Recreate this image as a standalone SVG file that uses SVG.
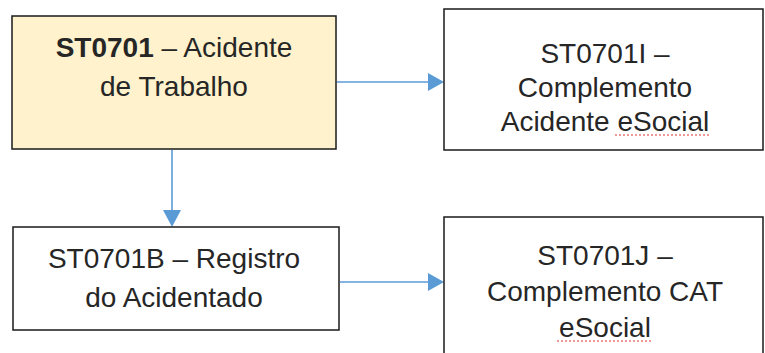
<svg xmlns="http://www.w3.org/2000/svg" width="765" height="353" viewBox="0 0 765 353">
<style>
.box{fill:#fff;stroke:#1a1a1a;stroke-width:1.5}
.hl{fill:#FFF2CC}
text{font-family:"Liberation Sans",Arial,sans-serif;font-size:28px;fill:#262626;text-anchor:middle}
.conn{stroke:#5B9BD5;stroke-width:1.6;fill:none}
.head{fill:#5B9BD5}
.sq{stroke:#d33;stroke-width:1.2;stroke-dasharray:2 2;fill:none}
</style>
<g id="connectors">
<line class="conn" x1="337" y1="82" x2="430" y2="82"/>
<path class="head" d="M428,73 L444,82 L428,91 z"/>
<line class="conn" x1="172" y1="150" x2="172" y2="212"/>
<path class="head" d="M163,210 L172,227 L181,210 z"/>
<line class="conn" x1="340" y1="282" x2="430" y2="282"/>
<path class="head" d="M428,273 L444,282 L428,291 z"/>
</g>
<g id="n1">
<rect class="box hl" x="12" y="16" width="324" height="133"/>
<text x="174" y="57"><tspan font-weight="bold">ST0701</tspan> – Acidente</text>
<text x="174" y="96">de Trabalho</text>
</g>
<g id="n2">
<rect class="box" x="444" y="9" width="319" height="141"/>
<text x="605" y="63">ST0701I –</text>
<text x="605" y="97">Complemento</text>
<text x="605" y="131">Acidente eSocial</text>
<line class="sq" x1="615" y1="135" x2="711" y2="135"/>
</g>
<g id="n3">
<rect class="box" x="13" y="227" width="326" height="103"/>
<text x="174" y="268">ST0701B – Registro</text>
<text x="174" y="307">do Acidentado</text>
</g>
<g id="n4">
<rect class="box" x="444" y="217" width="319" height="145"/>
<text x="605" y="265">ST0701J –</text>
<text x="605" y="301">Complemento CAT</text>
<text x="605" y="337">eSocial</text>
<line class="sq" x1="557" y1="341" x2="653" y2="341"/>
</g>
</svg>
